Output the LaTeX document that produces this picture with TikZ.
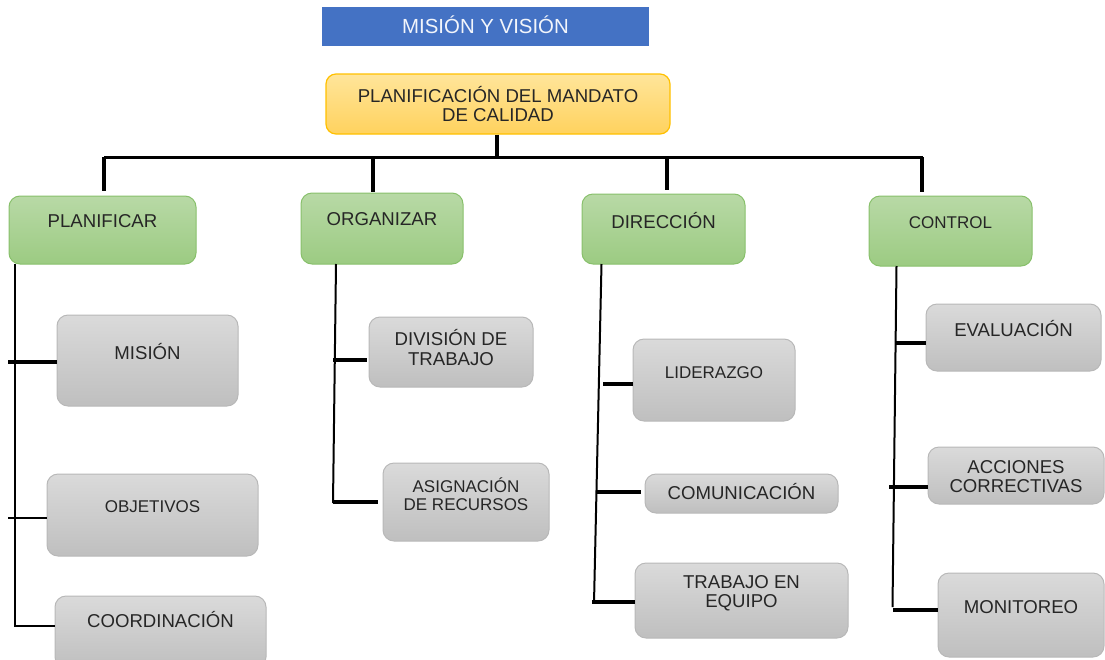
\documentclass[tikz,border=0pt]{standalone}
\usepackage{fontspec}
\setmainfont{Liberation Sans}
\definecolor{banner}{HTML}{4472C4}
\definecolor{ytop}{HTML}{FFE59A}
\definecolor{ybot}{HTML}{FFD25E}
\definecolor{yline}{HTML}{FFC000}
\definecolor{gtop}{HTML}{B8D9A6}
\definecolor{gbot}{HTML}{9CCB82}
\definecolor{gline}{HTML}{88C06B}
\definecolor{htop}{HTML}{DADADA}
\definecolor{hbot}{HTML}{BFBFBF}
\definecolor{hline}{HTML}{B8B8B8}
\definecolor{ink}{HTML}{262626}
\tikzset{
  txt/.style={text=ink,font=\fontsize{18.6}{19.4}\selectfont,align=center,inner sep=0pt},
  txts/.style={text=ink,font=\fontsize{17}{17.6}\selectfont,align=center,inner sep=0pt},
  ybox/.style={draw=yline,line width=1.2pt,rounded corners=10pt,top color=ytop,bottom color=ybot,inner sep=0pt},
  gbox/.style={draw=gline,line width=1pt,rounded corners=11pt,top color=gtop,bottom color=gbot,inner sep=0pt},
  hbox/.style={draw=hline,line width=1pt,rounded corners=11pt,top color=htop,bottom color=hbot,inner sep=0pt},
  barline/.style={line width=3pt},
  dropline/.style={line width=4pt},
  trunk/.style={line width=2pt},
  tickbig/.style={line width=4pt},
  ticksmall/.style={line width=2.2pt}
}
\begin{document}
\begin{tikzpicture}[x=1pt,y=-1pt]
\useasboundingbox (0,0) rectangle (1105,659);
\clip (0,0) rectangle (1105,659);
% title banner
\node[fill=banner,minimum width=327pt,minimum height=39pt,inner sep=0pt] (mv) at (485.5,26.5) {};
\node[text=white!93!banner,font=\fontsize{20.4}{21}\selectfont,inner sep=0pt] (mvt) at (485.5,24.5) {MISIÓN Y VISIÓN};
% top box
\node[ybox,minimum width=344pt,minimum height=60pt] (ymd) at (498,104) {};
\node[txt] (ymdt) at (498,104) {PLANIFICACIÓN DEL MANDATO\\DE CALIDAD};
% level 1
\node[gbox,minimum width=187pt,minimum height=68pt,label={[txt,yshift=9pt]center:PLANIFICAR}] (plan) at (102.5,230) {};
\node[gbox,minimum width=162pt,minimum height=71pt,label={[txt,yshift=9.5pt]center:ORGANIZAR}] (org) at (382,228.5) {};
\node[gbox,minimum width=163pt,minimum height=70pt,label={[txt,yshift=8pt]center:DIRECCIÓN}] (dir) at (663.5,229) {};
\node[gbox,minimum width=163pt,minimum height=70pt,label={[txts,yshift=8pt]center:CONTROL}] (ctrl) at (950.5,231) {};
% level 2
\node[hbox,minimum width=181pt,minimum height=91pt,label={[txt,yshift=8.5pt]center:MISIÓN}] (mis) at (147.5,360.5) {};
\node[hbox,minimum width=211pt,minimum height=82pt,label={[txts,yshift=8pt]center:OBJETIVOS}] (obj) at (152.5,515) {};
\node[hbox,minimum width=211pt,minimum height=72pt,label={[txt,yshift=12pt]center:COORDINACIÓN}] (coo) at (160.5,632) {};
\node[hbox,minimum width=164pt,minimum height=70pt,label={[txt,yshift=4.5pt]center:DIVISIÓN DE\\TRABAJO}] (div) at (451,352) {};
\node[hbox,minimum width=166pt,minimum height=78pt,label={[txts,yshift=8pt]center:ASIGNACIÓN\\DE RECURSOS}] (asi) at (466,502) {};
\node[hbox,minimum width=162pt,minimum height=82pt,label={[txts,yshift=7pt]center:LIDERAZGO}] (lid) at (714,380) {};
\node[hbox,minimum width=193pt,minimum height=39pt,label={[txt,yshift=1.5pt]center:COMUNICACIÓN}] (com) at (741.5,493.5) {};
\node[hbox,minimum width=213pt,minimum height=75pt,label={[txt,yshift=7pt]center:TRABAJO EN\\EQUIPO}] (tra) at (741.5,600.5) {};
\node[hbox,minimum width=175pt,minimum height=67pt,label={[txt,yshift=8.5pt]center:EVALUACIÓN}] (eva) at (1013.5,337.5) {};
\node[hbox,minimum width=176pt,minimum height=57pt,label={[txt,yshift=-1pt]center:ACCIONES\\CORRECTIVAS}] (acc) at (1016,475.5) {};
\node[hbox,minimum width=166pt,minimum height=84pt,label={[txt,yshift=8pt]center:MONITOREO}] (mon) at (1021,615) {};
% top connectors
\coordinate (bc) at (497,157);
\coordinate (bl) at (104,157);
\coordinate (br) at (923,157);
\coordinate (b1) at (104,157);
\coordinate (b2) at (373,157);
\coordinate (b3) at (667,157);
\coordinate (b4) at (922,157);
\draw[dropline] (ymd.south -| bc) -- (bc);
\draw[barline] (bl) -- (br);
\draw[dropline,shorten >=5pt] (b1) -- (b1 |- plan.north);
\draw[dropline,shorten >=1pt] (b2) -- (b2 |- org.north);
\draw[dropline,shorten >=4pt] (b3) -- (b3 |- dir.north);
\draw[dropline,shorten >=4pt] (b4) -- (b4 |- ctrl.north);
% PLANIFICAR column
\coordinate (pt0) at (15,264);
\coordinate (pt1) at (15,627);
\coordinate (pk1) at (8,362);
\coordinate (pk2) at (8,518);
\coordinate (pk3) at (15,626);
\draw[trunk] (pt0) -- (pt1);
\draw[tickbig] (pk1) -- (pk1 -| mis.west);
\draw[ticksmall] (pk2) -- (pk2 -| obj.west);
\draw[ticksmall] (pk3) -- (pk3 -| coo.west);
% ORGANIZAR column
\coordinate (ot0) at (336,264);
\coordinate (ot1) at (333,503);
\coordinate (ok1) at (333,360);
\coordinate (ok2) at (333,502);
\draw[trunk] (ot0) -- (ot1);
\draw[tickbig,shorten >=2pt] (ok1) -- (ok1 -| div.west);
\draw[tickbig,shorten >=5pt] (ok2) -- (ok2 -| asi.west);
% DIRECCION column
\coordinate (dt0) at (601.5,264);
\coordinate (dt1) at (594,603);
\coordinate (dk1) at (603,384);
\coordinate (dk2) at (597,492);
\coordinate (dk3) at (592,602);
\draw[trunk] (dt0) -- (dt1);
\draw[tickbig] (dk1) -- (dk1 -| lid.west);
\draw[tickbig,shorten >=4pt] (dk2) -- (dk2 -| com.west);
\draw[tickbig] (dk3) -- (dk3 -| tra.west);
% CONTROL column
\coordinate (ct0) at (896.5,266);
\coordinate (ct1) at (892.5,607);
\coordinate (ck1) at (896,342.5);
\coordinate (ck2) at (889,486.5);
\coordinate (ck3) at (893,610);
\draw[trunk] (ct0) -- (ct1);
\draw[tickbig] (ck1) -- (ck1 -| eva.west);
\draw[tickbig] (ck2) -- (ck2 -| acc.west);
\draw[tickbig] (ck3) -- (ck3 -| mon.west);
\end{tikzpicture}
\end{document}
